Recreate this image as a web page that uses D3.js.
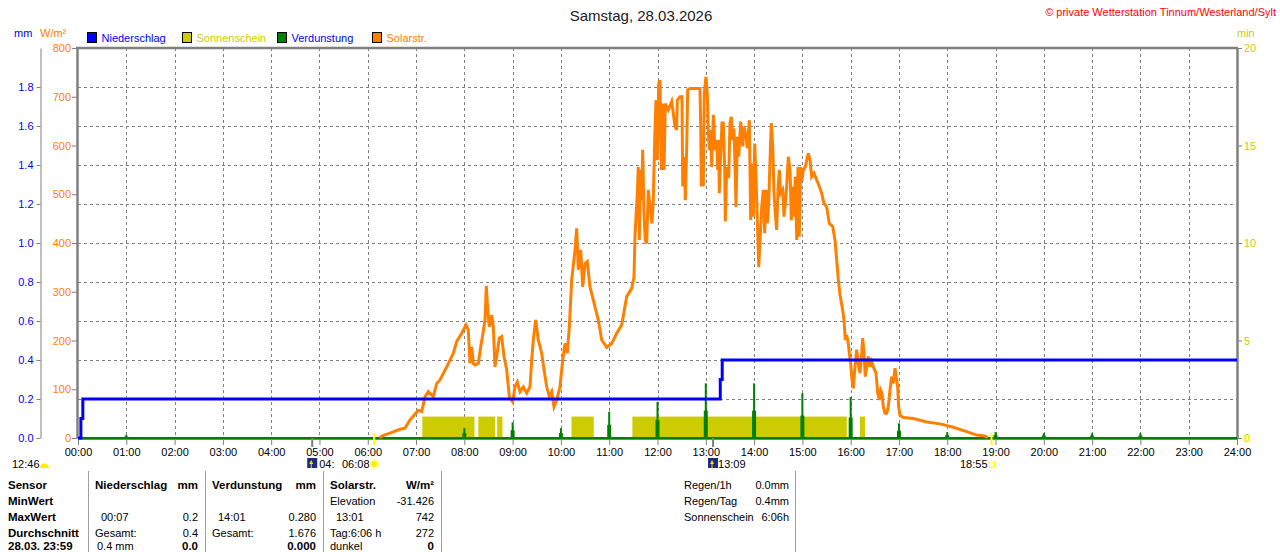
<!DOCTYPE html>
<html>
<head>
<meta charset="utf-8">
<script src="https://cdn.jsdelivr.net/npm/d3@7"></script>
<style>
body { margin: 0; background: #fff; }
svg text { font-family: "Liberation Sans", Arial, sans-serif; font-size: 11px; }
</style>
</head>
<body>
<svg id="chart" width="1280" height="552"></svg>
<script>
// tick labels
const hourTicks = [0, 1, 2, 3, 4, 5, 6, 7, 8, 9, 10, 11, 12, 13, 14, 15, 16, 17, 18, 19, 20, 21, 22, 23, 24];
const mmTicks = [0, 0.2, 0.4, 0.6, 0.8, 1.0, 1.2, 1.4, 1.6, 1.8];
const wTicks = [0, 100, 200, 300, 400, 500, 600, 700, 800];
const minTicks = [0, 5, 10, 15, 20];
const gridMM = [0.2, 0.4, 0.6, 0.8, 1.0, 1.2, 1.4, 1.6, 1.8];

// legend
const legendLabels = ['Niederschlag', 'Sonnenschein', 'Verdunstung', 'Solarstr.'];
const legendFill = ['#0000ff', '#cccc00', '#008000', '#ff8000'];
const legendText = ['#0000ff', '#cccc00', '#0000ff', '#ff8000'];

// rain, cumulative mm [hour, mm]
const rainSteps = [[0, 0], [0.06, 0.1], [0.1, 0.2], [13.3, 0.3], [13.34, 0.4], [24, 0.4]];

// sunshine intervals [from, to] in hours, value in min
const sunIntervals = [[7.13, 8.21], [8.29, 8.64], [8.68, 8.79], [10.22, 10.68], [11.48, 15.92], [16.19, 16.3]];
const sunMinutes = 1.1;

// evaporation per hour, mm
const evapHours = [1, 8, 9, 10, 11, 12, 13, 14, 15, 16, 17, 18, 19, 20, 21, 22];
const evapValues = [0.015, 0.05, 0.08, 0.05, 0.135, 0.185, 0.28, 0.28, 0.23, 0.21, 0.075, 0.03, 0.03, 0.025, 0.025, 0.025];

// solar radiation [hour, W/m²], daylight part (0 before and after)
const solar = [
  [6.25, 0], [6.29, 4], [6.46, 10], [6.67, 18], [6.77, 20], [6.875, 37], [7.047, 57], [7.117, 54],
  [7.186, 85], [7.254, 95], [7.357, 85], [7.428, 112], [7.496, 119], [7.635, 146], [7.772, 174], [7.842, 198],
  [7.946, 215], [8.035, 232], [8.082, 222], [8.117, 153], [8.153, 187], [8.186, 153], [8.221, 150], [8.289, 153],
  [8.339, 187], [8.38, 211], [8.428, 242], [8.455, 312], [8.484, 263], [8.517, 228], [8.567, 252], [8.6, 228],
  [8.635, 146], [8.67, 167], [8.724, 205], [8.774, 208], [8.821, 167], [8.877, 140], [8.931, 85], [9.001, 74],
  [9.049, 105], [9.097, 115], [9.153, 95], [9.221, 105], [9.291, 92], [9.36, 105], [9.395, 160], [9.428, 201],
  [9.478, 242], [9.532, 201], [9.602, 174], [9.65, 140], [9.706, 105], [9.759, 85], [9.809, 95], [9.857, 64],
  [9.913, 78], [9.981, 105], [10.037, 160], [10.085, 194], [10.132, 174], [10.174, 228], [10.223, 324],
  [10.292, 386], [10.327, 430], [10.36, 345], [10.41, 386], [10.451, 310], [10.499, 358], [10.546, 362],
  [10.602, 310], [10.671, 283], [10.774, 242], [10.845, 201], [10.948, 186], [11.052, 194], [11.155, 215],
  [11.259, 232], [11.362, 290], [11.466, 307], [11.513, 330], [11.534, 413], [11.555, 454], [11.582, 502],
  [11.602, 556], [11.623, 406], [11.652, 550], [11.673, 488], [11.693, 591], [11.72, 461], [11.747, 406],
  [11.776, 399], [11.81, 509], [11.845, 474], [11.886, 440], [11.913, 488], [11.942, 611], [11.969, 693],
  [11.996, 570], [12.025, 727], [12.052, 734], [12.079, 550], [12.108, 686], [12.135, 550], [12.162, 686],
  [12.224, 673], [12.294, 690], [12.327, 666], [12.362, 639], [12.397, 632], [12.41, 693], [12.466, 700],
  [12.507, 700], [12.522, 516], [12.555, 577], [12.576, 488], [12.605, 598], [12.625, 714], [12.673, 717],
  [12.88, 717], [12.895, 639], [12.907, 519], [12.949, 519], [12.969, 707], [13.004, 741], [13.031, 707],
  [13.052, 632], [13.073, 591], [13.102, 632], [13.122, 556], [13.156, 663], [13.191, 591], [13.226, 611],
  [13.247, 550], [13.267, 611], [13.28, 502], [13.309, 584], [13.336, 646], [13.363, 646], [13.392, 550],
  [13.404, 444], [13.433, 556], [13.474, 533], [13.501, 646], [13.528, 659], [13.557, 611], [13.584, 635],
  [13.611, 533], [13.626, 474], [13.653, 618], [13.682, 577], [13.723, 649], [13.765, 598], [13.791, 639],
  [13.833, 618], [13.86, 594], [13.901, 652], [13.93, 447], [13.957, 563], [13.984, 454], [14.013, 604],
  [14.04, 536], [14.067, 447], [14.096, 351], [14.123, 406], [14.158, 474], [14.191, 509], [14.22, 420],
  [14.247, 509], [14.274, 440], [14.303, 481], [14.33, 570], [14.357, 646], [14.386, 598], [14.412, 502],
  [14.439, 461], [14.468, 427], [14.495, 509], [14.522, 550], [14.551, 502], [14.592, 509], [14.619, 454],
  [14.646, 481], [14.675, 516], [14.709, 577], [14.744, 550], [14.771, 447], [14.8, 516], [14.827, 454],
  [14.854, 536], [14.883, 406], [14.909, 556], [14.936, 413], [14.965, 556], [14.992, 529], [15.019, 550],
  [15.061, 556], [15.09, 570], [15.123, 584], [15.158, 570], [15.193, 536], [15.241, 543], [15.297, 529],
  [15.351, 516], [15.4, 502], [15.448, 481], [15.503, 474], [15.558, 440], [15.628, 434], [15.675, 406],
  [15.711, 365], [15.744, 325], [15.779, 294], [15.835, 262], [15.862, 242], [15.889, 201], [15.918, 211],
  [15.951, 194], [15.972, 174], [16.001, 153], [16.028, 119], [16.055, 102], [16.084, 140], [16.125, 181],
  [16.167, 146], [16.193, 133], [16.229, 174], [16.249, 205], [16.276, 174], [16.303, 126], [16.332, 146],
  [16.365, 167], [16.4, 146], [16.435, 157], [16.469, 146], [16.525, 133], [16.56, 92], [16.593, 78],
  [16.622, 98], [16.649, 92], [16.676, 64], [16.711, 51], [16.746, 51], [16.779, 64], [16.814, 98],
  [16.849, 126], [16.883, 112], [16.918, 143], [16.953, 119], [16.973, 105], [16.994, 64], [17.021, 47],
  [17.09, 42], [17.297, 40], [17.575, 33], [17.85, 29], [18.126, 22], [18.403, 13], [18.61, 6], [18.782, 4],
  [18.84, 1]
];

// sun / moon times below the axis
const sunrise = 6 + 8 / 60;
const sunset = 18 + 55 / 60;
const moonrise = 4.85;
const moonset = 13 + 9 / 60;

// table below the chart: [text, x, row, anchor, bold]
const tableCells = [
  ['Sensor', 8, 0, 'start', true], ['MinWert', 8, 1, 'start', true], ['MaxWert', 8, 2, 'start', true],
  ['Durchschnitt', 8, 3, 'start', true], ['28.03. 23:59', 8, 4, 'start', true],
  ['Niederschlag', 95, 0, 'start', true], ['mm', 198, 0, 'end', true],
  ['00:07', 101, 2, 'start', false], ['0.2', 198, 2, 'end', false],
  ['Gesamt:', 95, 3, 'start', false], ['0.4', 198, 3, 'end', false],
  ['0.4 mm', 97, 4, 'start', false], ['0.0', 198, 4, 'end', true],
  ['Verdunstung', 212, 0, 'start', true], ['mm', 316, 0, 'end', true],
  ['14:01', 218, 2, 'start', false], ['0.280', 316, 2, 'end', false],
  ['Gesamt:', 212, 3, 'start', false], ['1.676', 316, 3, 'end', false],
  ['0.000', 316, 4, 'end', true],
  ['Solarstr.', 330, 0, 'start', true], ['W/m²', 434, 0, 'end', true],
  ['Elevation', 330, 1, 'start', false], ['-31.426', 434, 1, 'end', false],
  ['13:01', 336, 2, 'start', false], ['742', 434, 2, 'end', false],
  ['Tag:6:06 h', 330, 3, 'start', false], ['272', 434, 3, 'end', false],
  ['dunkel', 330, 4, 'start', false], ['0', 434, 4, 'end', true],
  ['Regen/1h', 684, 0, 'start', false], ['0.0mm', 789, 0, 'end', false],
  ['Regen/Tag', 684, 1, 'start', false], ['0.4mm', 789, 1, 'end', false],
  ['Sonnenschein', 684, 2, 'start', false], ['6:06h', 789, 2, 'end', false]
];
const tableRowsY = [489, 505, 521, 537, 550];
const tableSeparators = [88, 205, 323, 441, 795];

const svg = d3.select('#chart');
const plot = {left: 78, right: 1237, top: 48, bottom: 438};

const x = d3.scaleLinear().domain([0, 24]).range([plot.left, plot.right]);
const yW = d3.scaleLinear().domain([0, 800]).range([plot.bottom, plot.top]);
const yMM = d3.scaleLinear().domain([0, 2]).range([plot.bottom, plot.top]);
const yMin = d3.scaleLinear().domain([0, 20]).range([plot.bottom, plot.top]);

svg.append('rect').attr('width', 1280).attr('height', 552).attr('fill', '#fff');

// title + copyright
svg.append('text').attr('x', 641).attr('y', 21).attr('text-anchor', 'middle')
    .style('font-size', '15px').attr('fill', '#202020').text('Samstag, 28.03.2026');
svg.append('text').attr('x', 1276).attr('y', 16).attr('text-anchor', 'end')
    .attr('fill', '#ff0000').text('© private Wetterstation Tinnum/Westerland/Sylt');

// unit labels
svg.append('text').attr('x', 14).attr('y', 37).attr('fill', '#0000ff').text('mm');
svg.append('text').attr('x', 40).attr('y', 37).attr('fill', '#ff8000').text('W/m²');
svg.append('text').attr('x', 1237).attr('y', 37).attr('fill', '#cccc00').text('min');

// legend
const legend = svg.append('g').selectAll('g')
    .data(legendLabels)
    .join('g')
    .attr('transform', (d, i) => `translate(${87.5 + i * 95},0)`);
legend.append('rect')
    .attr('y', 32.5).attr('width', 9).attr('height', 10)
    .attr('fill', (d, i) => legendFill[i]).attr('stroke', '#000');
legend.append('text')
    .attr('x', 14).attr('y', 42)
    .attr('fill', (d, i) => legendText[i])
    .text(d => d);

// grid
const grid = svg.append('g').attr('stroke', '#808080').attr('stroke-dasharray', '3,3');
grid.selectAll('line.h')
    .data(gridMM)
    .join('line').classed('h', true)
    .attr('x1', plot.left).attr('x2', plot.right)
    .attr('y1', d => yMM(d) + 0.5).attr('y2', d => yMM(d) + 0.5);
grid.selectAll('line.v')
    .data(hourTicks.slice(1, -1))
    .join('line').classed('v', true)
    .attr('x1', d => Math.round(x(d)) + 0.5).attr('x2', d => Math.round(x(d)) + 0.5)
    .attr('y1', plot.top).attr('y2', plot.bottom);

// axes
function styleAxis(g, color, width) {
    g.attr('font-family', null).attr('font-size', null);
    g.select('.domain').attr('stroke', '#808080').attr('stroke-width', width);
    g.selectAll('.tick line').attr('stroke', '#808080');
    g.selectAll('.tick text').attr('fill', color);
}

svg.append('g').attr('transform', 'translate(40.5,0)')
    .call(d3.axisLeft(yMM).tickValues(mmTicks).tickFormat(d3.format('.1f')).tickSize(4).tickSizeOuter(0).tickPadding(3))
    .call(g => styleAxis(g, '#0000ff', 1));

svg.append('g').attr('transform', `translate(${plot.left - 1},0)`)
    .call(d3.axisLeft(yW).tickValues(wTicks).tickSize(5).tickSizeOuter(0).tickPadding(1))
    .call(g => styleAxis(g, '#ff8000', 2.5));

svg.append('g').attr('transform', `translate(${plot.right},0)`)
    .call(d3.axisRight(yMin).tickValues(minTicks).tickSize(5).tickSizeOuter(0).tickPadding(2))
    .call(g => styleAxis(g, '#cccc00', 2.5));

svg.append('g').attr('transform', `translate(0,${plot.bottom + 1})`)
    .call(d3.axisBottom(x).tickValues(hourTicks)
        .tickFormat(d => String(d).padStart(2, '0') + ':00').tickSize(6).tickSizeOuter(0).tickPadding(3))
    .call(g => styleAxis(g, '#000', 1));

// top border
svg.append('line')
    .attr('x1', plot.left - 2).attr('x2', plot.right + 1)
    .attr('y1', plot.top).attr('y2', plot.top)
    .attr('stroke', '#808080').attr('stroke-width', 2.5);

// sunshine bars
svg.append('g').selectAll('rect')
    .data(sunIntervals)
    .join('rect')
    .attr('x', d => x(d[0]))
    .attr('width', d => x(d[1]) - x(d[0]))
    .attr('y', yMin(sunMinutes))
    .attr('height', plot.bottom - yMin(sunMinutes))
    .attr('fill', '#cccc00');

// evaporation spikes
const evap = svg.append('g').attr('fill', '#008000');
evap.selectAll('rect.wide')
    .data(evapHours)
    .join('rect').classed('wide', true)
    .attr('x', d => x(d) - 2)
    .attr('width', 4)
    .attr('y', (d, i) => yMM(evapValues[i] / 2))
    .attr('height', (d, i) => plot.bottom - yMM(evapValues[i] / 2));
evap.selectAll('rect.thin')
    .data(evapHours)
    .join('rect').classed('thin', true)
    .attr('x', d => x(d) - 1)
    .attr('width', 2)
    .attr('y', (d, i) => yMM(evapValues[i]))
    .attr('height', (d, i) => plot.bottom - yMM(evapValues[i]));
svg.append('line')
    .attr('x1', plot.left).attr('x2', plot.right)
    .attr('y1', plot.bottom).attr('y2', plot.bottom)
    .attr('stroke', '#008000').attr('stroke-width', 2);

// solar radiation
const solarLine = d3.line()
    .x(d => x(d[0]))
    .y(d => yW(d[1]));
svg.append('path')
    .datum(solar)
    .attr('d', solarLine)
    .attr('fill', 'none')
    .attr('stroke', '#ff8000')
    .attr('stroke-width', 3);

// rain
const rainLine = d3.line()
    .x(d => x(d[0]))
    .y(d => yMM(d[1]))
    .curve(d3.curveStepAfter);
svg.append('path')
    .datum(rainSteps)
    .attr('d', rainLine)
    .attr('fill', 'none')
    .attr('stroke', '#0000ff')
    .attr('stroke-width', 3);

// sun and moon markers
const marks = svg.append('g');
marks.append('text').attr('x', 12).attr('y', 468).text('12:46');
marks.append('path')
    .attr('d', 'M40,468 A4.5,4.5 0 0 1 49,468 Z').attr('fill', '#ffee00');

[sunrise, sunset].forEach(t => {
    marks.append('rect')
        .attr('x', x(t) - 1).attr('y', 433).attr('width', 2).attr('height', 12)
        .attr('fill', '#ffff00');
});
[moonrise, moonset].forEach(t => {
    marks.append('rect')
        .attr('x', x(t) - 1).attr('y', 438).attr('width', 2).attr('height', 9)
        .attr('fill', '#808080');
    marks.append('rect')
        .attr('x', x(t) - 5).attr('y', 458).attr('width', 10).attr('height', 10)
        .attr('fill', '#1c2a80');
    marks.append('path')
        .attr('d', `M${x(t) - 1},460 l-2,4 h1.5 v4 h1 v-4 h1.5 Z`)
        .attr('fill', '#ffdd00');
});
marks.append('text').attr('x', x(moonrise) + 7).attr('y', 468).text('04:');
marks.append('text').attr('x', 342).attr('y', 468).text('06:08');
marks.append('circle').attr('cx', x(sunrise)).attr('cy', 464).attr('r', 5).attr('fill', '#ffff99');
marks.append('circle').attr('cx', x(sunrise)).attr('cy', 464).attr('r', 3).attr('fill', '#ffee00');
marks.append('text').attr('x', x(moonset) + 5).attr('y', 468).text('13:09');
marks.append('text').attr('x', x(sunset) - 4).attr('y', 468).attr('text-anchor', 'end').text('18:55');
marks.append('rect')
    .attr('x', x(sunset) - 2).attr('y', 462).attr('width', 5).attr('height', 5)
    .attr('fill', 'none').attr('stroke', '#ffff00');
marks.append('rect')
    .attr('x', x(24) + 7).attr('y', 436).attr('width', 5).attr('height', 5)
    .attr('fill', 'none').attr('stroke', '#ffff00');

// table
svg.append('g').selectAll('line')
    .data(tableSeparators)
    .join('line')
    .attr('x1', d => d + 0.5).attr('x2', d => d + 0.5)
    .attr('y1', 471).attr('y2', 552)
    .attr('stroke', '#a0a0a0');

svg.append('g').selectAll('text')
    .data(tableCells)
    .join('text')
    .attr('x', d => d[1])
    .attr('y', d => tableRowsY[d[2]])
    .attr('text-anchor', d => d[3])
    .attr('font-weight', d => d[4] ? 'bold' : null)
    .style('font-size', d => d[4] ? '11.5px' : '11px')
    .attr('fill', '#000')
    .text(d => d[0]);
</script>
</body>
</html>
